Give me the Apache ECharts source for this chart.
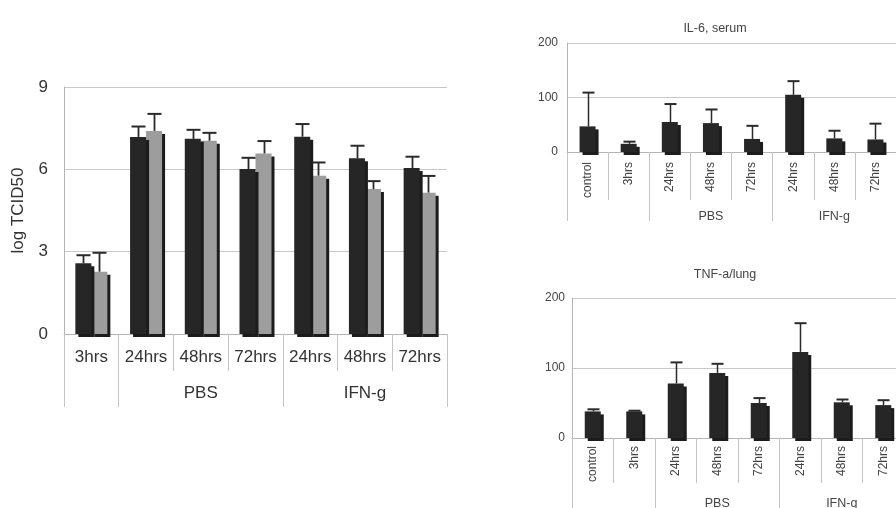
<!DOCTYPE html>
<html>
<head>
<meta charset="utf-8">
<script src="https://cdn.jsdelivr.net/npm/echarts@6/dist/echarts.min.js"></script>
<style>
html,body{margin:0;padding:0;background:#fff;}
#c{width:896px;height:508px;}
</style>
</head>
<body>
<div id="c"></div>
<script>
// ---- Left panel data (log TCID50) ----
const leftCategories = ['3hrs','24hrs','48hrs','72hrs','24hrs','48hrs','72hrs'];
const leftGroupNames = ['', 'PBS', 'IFN-g'];
const leftGroupSpans = [1, 3, 3];
const darkMean = [2.58, 7.18, 7.11, 6.01, 7.19, 6.40, 6.05];
const darkErr  = [0.29, 0.38, 0.33, 0.41, 0.46, 0.46, 0.41];
const grayMean = [2.27, 7.40, 7.04, 6.58, 5.77, 5.28, 5.15];
const grayErr  = [0.69, 0.62, 0.29, 0.45, 0.48, 0.29, 0.61];
const leftYMax = 9, leftYStep = 3;

// ---- Right panels data ----
const rightCategories = ['control','3hrs','24hrs','48hrs','72hrs','24hrs','48hrs','72hrs'];
const rightGroupNames = ['', 'PBS', 'IFN-g'];
const rightGroupSpans = [2, 3, 3];
const il6Title = 'IL-6, serum';
const il6Mean = [47, 15, 55, 53, 24, 105, 25, 23];
const il6Err  = [62, 4, 33, 25, 24, 25, 14, 29];
const tnfTitle = 'TNF-a/lung';
const tnfMean = [38, 38, 78, 93, 50, 123, 51, 47];
const tnfErr  = [3, 1, 30, 13, 7, 41, 4, 7];
const rightYMax = 200, rightYStep = 100;

const FONT = 'Liberation Sans, Arial, sans-serif';

function groupBounds(spans){ const b=[0]; spans.forEach(s=>b.push(b[b.length-1]+s)); return b; }
function groupMids(spans){ const b=groupBounds(spans); return spans.map((s,i)=>b[i]+s/2); }

function errRender(offset, cap, color, lw){
  return function(params, api){
    const xi = api.value(0), v = api.value(1), e = api.value(2);
    const p0 = api.coord([xi, v]);
    const p1 = api.coord([xi, v + e]);
    const x = Math.round(p0[0] + offset) + 0.5;
    return {type:'group', children:[
      {type:'line', shape:{x1:x, y1:p0[1], x2:x, y2:p1[1]}, style:{stroke:color, lineWidth:lw}},
      {type:'line', shape:{x1:x-cap/2, y1:p1[1], x2:x+cap/2, y2:p1[1]}, style:{stroke:color, lineWidth:2}}
    ]};
  };
}

const grids = [
  {left:64, top:87, width:383, height:247, containLabel:false, outerBoundsMode:'none'},
  {left:567, top:43, width:329, height:109, containLabel:false, outerBoundsMode:'none'},
  {left:572, top:298, width:332, height:140, containLabel:false, outerBoundsMode:'none'}
];

function catAxis(gi, cats, fontSize, color, rotate, margin, tickLen){
  return {
    type:'category', gridIndex:gi, data:cats, position:'bottom',
    axisLine:{show:true, lineStyle:{color:'#b4b4b4', width:1}},
    axisTick:{show:true, interval:0, length:tickLen, lineStyle:{color:'#c4c4c4'}},
    axisLabel:{interval:0, rotate:rotate, margin:margin, color:color, fontSize:fontSize, fontFamily:FONT},
    splitLine:{show:false}
  };
}
function groupAxis(gi, n, spans, names, fontSize, color, margin, tickLen){
  const mids = groupMids(spans);
  return {
    type:'value', gridIndex:gi, min:0, max:n, position:'bottom',
    axisLine:{show:false},
    axisTick:{show:true, customValues:groupBounds(spans), length:tickLen, lineStyle:{color:'#c4c4c4'}},
    axisLabel:{customValues:mids, margin:margin, color:color, fontSize:fontSize, fontFamily:FONT,
      formatter:function(v){ const i = mids.findIndex(m=>Math.abs(m-v)<1e-6); return i>=0 ? names[i] : ''; }},
    splitLine:{show:false}
  };
}
function valAxis(gi, max, step, fontSize, color, margin, name){
  const a = {
    type:'value', gridIndex:gi, min:0, max:max, interval:step,
    axisLine:{show:true, lineStyle:{color:'#b4b4b4'}},
    axisTick:{show:false},
    axisLabel:{margin:margin, color:color, fontSize:fontSize, fontFamily:FONT},
    splitLine:{show:true, lineStyle:{color:'#c8c8c8', width:1}}
  };
  if (name){
    a.name = name; a.nameLocation = 'middle'; a.nameGap = 37;
    a.nameTextStyle = {color:color, fontSize:17, fontFamily:FONT};
  }
  return a;
}

const shadow = {shadowColor:'#1c1c1c', shadowOffsetX:3, shadowOffsetY:3, shadowBlur:0};

const option = {
  animation:false,
  backgroundColor:'#ffffff',
  title:[
    {text:il6Title, left:710, top:17, textAlign:'center', textStyle:{fontSize:12.5, fontWeight:'normal', color:'#444', fontFamily:FONT}},
    {text:tnfTitle, left:720, top:263, textAlign:'center', textStyle:{fontSize:12.5, fontWeight:'normal', color:'#444', fontFamily:FONT}}
  ],
  grid: grids,
  xAxis:[
    catAxis(0, leftCategories, 17, '#333', 0, 15, 37),
    groupAxis(0, leftCategories.length, leftGroupSpans, leftGroupNames, 17, '#333', 51, 73),
    catAxis(1, rightCategories, 12, '#444', 90, 10, 48),
    groupAxis(1, rightCategories.length, rightGroupSpans, rightGroupNames, 12.5, '#444', 58, 69),
    catAxis(2, rightCategories, 12, '#444', 90, 8, 45),
    groupAxis(2, rightCategories.length, rightGroupSpans, rightGroupNames, 12.5, '#444', 59, 80)
  ],
  yAxis:[
    valAxis(0, leftYMax, leftYStep, 17, '#333', 16, 'log TCID50'),
    valAxis(1, rightYMax, rightYStep, 12, '#444', 9),
    valAxis(2, rightYMax, rightYStep, 12, '#444', 7)
  ],
  series:[
    {type:'bar', xAxisIndex:0, yAxisIndex:0, data:darkMean, barWidth:16, barGap:'0%', z:3,
      itemStyle:Object.assign({color:'#262626'}, shadow)},
    {type:'bar', xAxisIndex:0, yAxisIndex:0, data:grayMean, barWidth:16, barGap:'0%', z:2,
      itemStyle:Object.assign({color:'#9d9d9d'}, shadow)},
    {type:'custom', xAxisIndex:0, yAxisIndex:0, z:5, renderItem:errRender(-8, 14, '#2a2a2a', 1.8),
      data:darkMean.map((v,i)=>[i, v, darkErr[i]])},
    {type:'custom', xAxisIndex:0, yAxisIndex:0, z:5, renderItem:errRender(8, 14, '#2a2a2a', 1.8),
      data:grayMean.map((v,i)=>[i, v, grayErr[i]])},

    {type:'bar', xAxisIndex:2, yAxisIndex:1, data:il6Mean, barWidth:16, z:3,
      itemStyle:Object.assign({color:'#262626'}, shadow)},
    {type:'custom', xAxisIndex:2, yAxisIndex:1, z:5, renderItem:errRender(0, 12, '#2a2a2a', 1.5),
      data:il6Mean.map((v,i)=>[i, v, il6Err[i]])},

    {type:'bar', xAxisIndex:4, yAxisIndex:2, data:tnfMean, barWidth:16, z:3,
      itemStyle:Object.assign({color:'#262626'}, shadow)},
    {type:'custom', xAxisIndex:4, yAxisIndex:2, z:5, renderItem:errRender(0, 12, '#2a2a2a', 1.5),
      data:tnfMean.map((v,i)=>[i, v, tnfErr[i]])}
  ]
};

const chart = echarts.init(document.getElementById('c'), null, {renderer:'canvas', width:896, height:508});
chart.setOption(option);
</script>
</body>
</html>
